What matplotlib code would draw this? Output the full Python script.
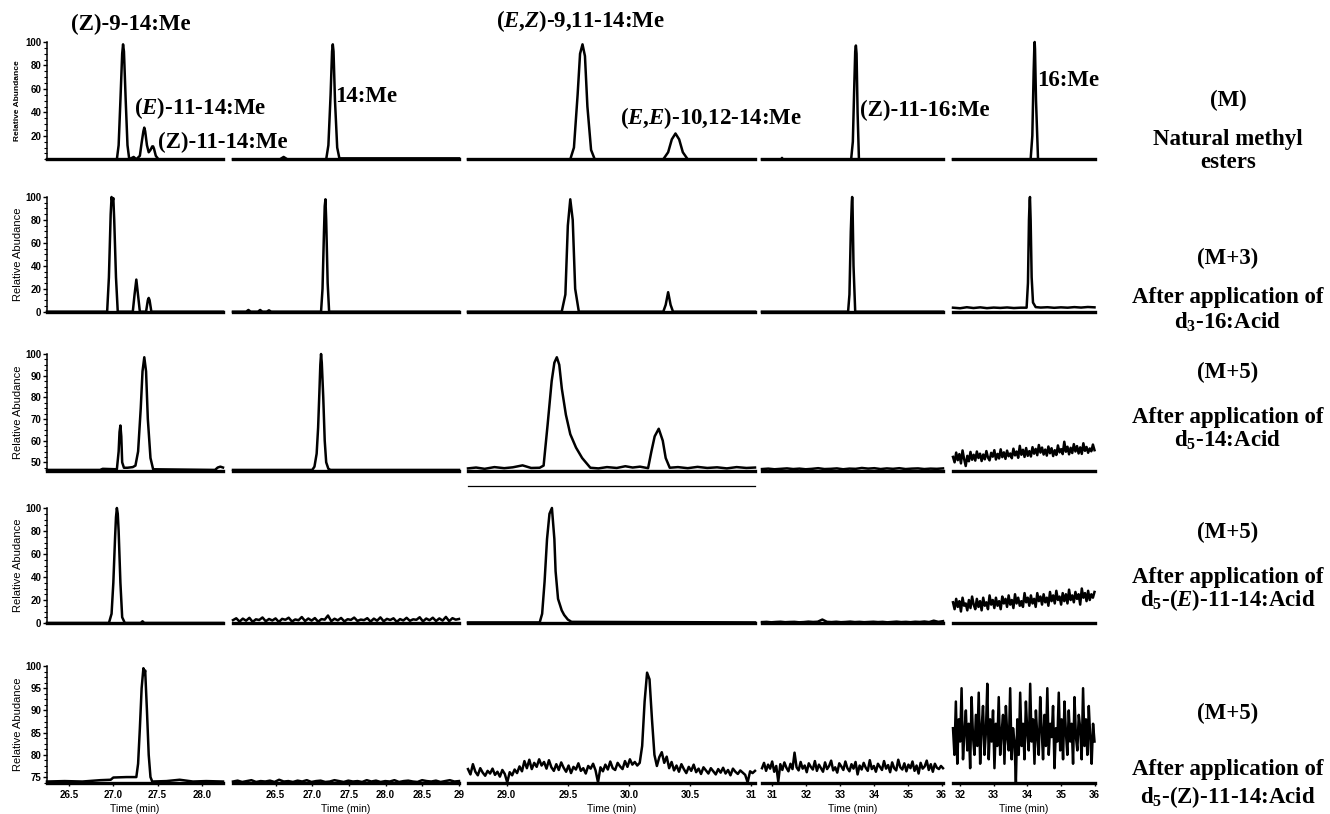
"""GC-MS ion chromatograms of methyl esters after application of labelled acids."""
import numpy as np
import matplotlib
matplotlib.use('Agg')
import matplotlib.pyplot as plt
from matplotlib.ticker import AutoMinorLocator

plt.rcParams['font.family'] = ['Liberation Sans', 'DejaVu Sans']
plt.rcParams['mathtext.fontset'] = 'custom'
plt.rcParams['mathtext.rm'] = 'Liberation Serif:bold'
plt.rcParams['mathtext.bf'] = 'Liberation Serif:bold'
plt.rcParams['mathtext.it'] = 'Liberation Serif:italic:bold'

# ---------------------------------------------------------------------------
# Data: time window per column, abundance window per row, traces (time, abund)
# ---------------------------------------------------------------------------
col_xlim = [(26.25, 28.24), (25.92, 29.0), (28.684, 31.03), (30.7, 36.04), (31.79, 36.0)]
col_xticks = [[26.5, 27.0, 27.5, 28.0],
              [26.5, 27.0, 27.5, 28.0, 28.5, 29.0],
              [29.0, 29.5, 30.0, 30.5, 31.0],
              [31, 32, 33, 34, 35, 36],
              [32, 33, 34, 35, 36]]
col_xticklabels = [['26.5', '27.0', '27.5', '28.0'],
                   ['26.5', '27.0', '27.5', '28.0', '28.5', '29'],
                   ['29.0', '29.5', '30.0', '30.5', '31'],
                   ['31', '32', '33', '34', '35', '36'],
                   ['32', '33', '34', '35', '36']]
row_ylim = [(0, 100), (0, 100), (46, 100), (0, 100), (73.6, 100)]
row_yticks = [[20, 40, 60, 80, 100],
              [0, 20, 40, 60, 80, 100],
              [50, 60, 70, 80, 90, 100],
              [0, 20, 40, 60, 80, 100],
              [75, 80, 85, 90, 95, 100]]
row_ylabel = ['Relative Abundance', 'Relative Abudance', 'Relative Abudance',
              'Relative Abudance', 'Relative Abudance']

# Row 1 (M): natural methyl esters
m_c1 = [(26.25, 0), (27.04, 0), (27.06, 12), (27.08, 50), (27.10, 90), (27.11, 98),
        (27.12, 92), (27.14, 50), (27.16, 12), (27.18, 0), (27.23, 2), (27.26, 0),
        (27.30, 3), (27.32, 14), (27.34, 24), (27.35, 27), (27.36, 24), (27.38, 12),
        (27.40, 6), (27.42, 8), (27.44, 11), (27.45, 11), (27.46, 9), (27.48, 3),
        (27.51, 0), (28.24, 0)]
m_c2 = [(25.92, 0), (26.56, 0), (26.61, 2), (26.66, 0), (27.19, 0), (27.22, 12),
        (27.25, 55), (27.27, 92), (27.28, 98), (27.29, 92), (27.31, 50), (27.34, 10),
        (27.37, 0.8), (29.0, 0.8)]
m_c3 = [(28.684, 0), (29.52, 0), (29.55, 10), (29.58, 55), (29.60, 90), (29.62, 98),
        (29.64, 88), (29.66, 45), (29.69, 8), (29.72, 0), (30.28, 0), (30.32, 6),
        (30.35, 17), (30.38, 22), (30.41, 17), (30.44, 6), (30.48, 0), (31.03, 0)]
m_c4 = [(30.7, 0), (31.27, 0), (31.29, 1.2), (31.31, 0), (33.33, 0), (33.38, 15),
        (33.42, 60), (33.45, 92), (33.47, 97), (33.49, 90), (33.52, 40), (33.56, 0),
        (36.04, 0)]
m_c5 = [(31.79, 0), (34.10, 0), (34.15, 20), (34.19, 75), (34.21, 96), (34.22, 100),
        (34.23, 94), (34.26, 50), (34.32, 0), (36.0, 0)]

# Row 2 (M+3): after d3-16:Acid
m3_c1 = [(26.25, 0), (26.93, 0), (26.95, 30), (26.97, 85), (26.98, 100), (26.99, 96),
         (27.00, 99), (27.01, 80), (27.03, 30), (27.05, 0), (27.22, 0), (27.24, 15),
         (27.26, 28), (27.28, 14), (27.30, 0), (27.37, 0), (27.39, 10), (27.40, 12),
         (27.41, 10), (27.43, 0), (28.24, 0)]
m3_c2 = [(25.92, 0), (26.10, 0), (26.13, 1.5), (26.16, 0), (26.26, 0), (26.29, 1.5),
         (26.32, 0), (26.38, 0), (26.41, 1.2), (26.44, 0), (27.12, 0), (27.14, 20),
         (27.16, 70), (27.17, 92), (27.18, 98), (27.19, 80), (27.21, 25), (27.23, 0),
         (29.0, 0)]
m3_c3 = [(28.684, 0), (29.45, 0), (29.48, 15), (29.50, 75), (29.52, 98), (29.54, 80),
         (29.56, 20), (29.59, 0), (30.28, 0), (30.30, 6), (30.32, 17), (30.34, 6),
         (30.36, 0), (31.03, 0)]
m3_c4 = [(30.7, 0), (33.24, 0), (33.28, 15), (33.32, 70), (33.35, 96), (33.36, 100),
         (33.37, 95), (33.40, 40), (33.45, 0), (36.04, 0)]
m3_c5 = [(31.79, 3.5), (32.0, 3.0), (32.2, 3.9), (32.4, 3.2), (32.6, 3.8), (32.8, 3.1),
         (33.0, 3.6), (33.2, 3.3), (33.4, 3.7), (33.6, 3.2), (33.8, 3.5), (33.98, 3.5),
         (34.02, 25), (34.05, 80), (34.07, 97), (34.08, 100), (34.10, 80), (34.13, 30),
         (34.17, 8), (34.25, 4), (34.4, 3.6), (34.6, 3.9), (34.8, 3.4), (35.0, 3.8),
         (35.2, 3.5), (35.4, 4.0), (35.6, 3.6), (35.8, 4.1), (36.0, 3.8)]

# Row 3 (M+5): after d5-14:Acid
m5a_c1 = [(26.25, 46.5), (26.85, 46.5), (26.88, 47.0), (27.04, 46.8), (27.06, 55),
          (27.07, 64), (27.08, 67), (27.09, 62), (27.10, 50), (27.12, 47.5), (27.16, 47.5),
          (27.22, 47.8), (27.25, 48.5), (27.28, 55), (27.31, 75), (27.33, 92), (27.35, 98.5),
          (27.37, 92), (27.39, 70), (27.42, 52), (27.45, 46.8), (28.15, 46.5), (28.18, 47.6),
          (28.21, 48.0), (28.24, 47.6)]
m5a_c2 = [(25.92, 46.5), (27.00, 46.5), (27.03, 48), (27.06, 54), (27.08, 66), (27.10, 85),
          (27.11, 95), (27.12, 100), (27.13, 96), (27.15, 80), (27.17, 60), (27.19, 50),
          (27.22, 47), (27.25, 46.5), (29.0, 46.5)]
m5a_c3 = [(28.684, 47.2), (28.75, 47.6), (28.82, 47.0), (28.90, 47.8), (28.98, 47.3),
          (29.05, 47.7), (29.13, 48.6), (29.20, 47.4), (29.27, 47.5), (29.302, 48.5),
          (29.335, 67.5), (29.368, 87.5), (29.39, 96), (29.41, 98.5), (29.43, 95),
          (29.451, 84), (29.484, 72), (29.52, 63), (29.567, 56.8), (29.617, 52),
          (29.684, 47.5), (29.75, 47.2), (29.82, 47.8), (29.90, 47.4), (29.97, 48.2),
          (30.03, 47.6), (30.09, 48.0), (30.156, 47.3), (30.183, 55), (30.21, 62),
          (30.243, 65.5), (30.276, 60), (30.30, 52), (30.333, 47.5), (30.40, 47.8),
          (30.48, 47.3), (30.56, 47.9), (30.64, 47.4), (30.72, 47.7), (30.80, 47.2),
          (30.88, 47.8), (30.96, 47.4), (31.03, 47.6)]
m5a_c4 = [46.9, 47.1, 46.8, 47.0, 47.2, 46.9, 47.1, 46.8, 47.0, 47.3, 46.9, 47.0, 47.2,
          46.8, 47.1, 47.0, 47.4, 47.1, 47.3, 46.9, 47.2, 47.0, 47.3, 46.9, 47.1, 47.2,
          46.9, 47.1, 47.0, 47.2]
m5a_c5 = [52.5, 50.0, 54.5, 51.0, 53.8, 49.5, 55.5, 51.5, 48.3, 53.0, 50.5, 54.8, 51.2,
          53.5, 50.8, 55.0, 52.0, 54.0, 50.6, 53.6, 51.4, 55.2, 52.2, 50.9, 54.4, 52.6,
          55.6, 51.3, 53.9, 51.8, 56.0, 52.4, 54.6, 51.6, 55.4, 52.8, 54.1, 51.9, 56.3,
          53.2, 55.0, 52.1, 57.6, 53.5, 55.8, 52.5, 56.6, 53.0, 55.2, 52.7, 57.0, 54.0,
          56.2, 53.3, 58.0, 54.5, 56.8, 53.6, 55.9, 53.1, 57.3, 54.2, 56.5, 52.9, 55.6,
          53.4, 57.8, 54.6, 56.1, 53.8, 59.5, 54.9, 57.2, 53.7, 56.7, 54.3, 58.4, 55.0,
          57.5, 54.1, 56.9, 53.9, 58.8, 55.3, 57.1, 54.4, 56.4, 55.1, 58.2, 55.6]

# Row 4 (M+5): after d5-(E)-11-14:Acid
m5e_c1 = [(26.25, 0), (26.95, 0), (26.98, 8), (27.00, 35), (27.02, 75), (27.03, 92),
          (27.04, 100), (27.05, 95), (27.06, 80), (27.08, 35), (27.10, 5), (27.13, 0),
          (27.31, 0), (27.33, 1.5), (27.35, 0), (28.24, 0)]
m5e_c2 = [2.5, 4.1, 1.2, 3.8, 2.0, 4.5, 1.0, 3.2, 2.6, 4.8, 1.5, 3.5, 2.2, 4.0, 0.9, 3.6,
          2.8, 4.6, 1.3, 3.1, 2.4, 5.2, 1.7, 3.9, 2.1, 4.3, 1.1, 3.4, 2.9, 6.5, 1.6, 3.7,
          2.3, 4.4, 1.4, 3.3, 2.7, 4.7, 1.8, 3.0, 2.5, 4.2, 1.2, 3.8, 2.0, 4.9, 1.5, 3.6,
          2.6, 4.1, 1.0, 3.4, 2.2, 4.5, 1.9, 3.2, 2.8, 5.0, 1.4, 3.9, 2.4, 4.6, 1.7, 4.0,
          2.1, 5.3, 1.6, 4.2, 2.9, 3.5]
m5e_c3 = [(28.684, 0.5), (29.27, 0.5), (29.29, 8), (29.31, 36), (29.33, 73), (29.35, 95),
          (29.37, 100), (29.39, 73), (29.40, 45), (29.42, 21), (29.45, 11), (29.47, 7),
          (29.50, 3), (29.53, 1), (31.03, 0.5)]
m5e_c4 = [0.8, 1.0, 0.6, 0.9, 1.1, 0.7, 0.9, 1.0, 0.6, 0.8, 1.2, 0.9, 1.1, 3.0, 1.0, 0.8,
          1.1, 0.7, 0.9, 1.2, 0.8, 1.0, 0.7, 0.9, 1.1, 0.8, 1.0, 0.6, 0.9, 1.2, 0.8, 1.0,
          0.7, 1.1, 0.9, 1.3, 0.8, 2.0, 1.0, 1.6]
m5e_c5 = [18, 12, 21, 14, 19, 10, 22, 15, 17, 11, 20, 13, 23, 16, 12, 21, 14, 19, 11, 22,
          15, 18, 12, 24, 16, 20, 13, 22, 15, 19, 12, 23, 17, 21, 14, 24, 16, 20, 13, 25,
          17, 22, 15, 19, 14, 26, 18, 22, 15, 24, 17, 21, 14, 26, 19, 23, 16, 25, 18, 22,
          15, 27, 19, 24, 17, 28, 20, 23, 16, 26, 19, 25, 17, 29, 20, 24, 18, 27, 21, 25,
          16, 30, 22, 26, 19, 28, 20, 25, 22, 27]

# Row 5 (M+5): after d5-(Z)-11-14:Acid
m5z_c1 = [(26.25, 74.0), (26.45, 74.1), (26.65, 74.0), (26.85, 74.3), (26.97, 74.4),
          (27.00, 74.9), (27.15, 75.0), (27.26, 75.0), (27.28, 78), (27.30, 86),
          (27.32, 95), (27.34, 99.5), (27.35, 98), (27.36, 99), (27.38, 90), (27.40, 80),
          (27.42, 75), (27.44, 74), (27.60, 74.1), (27.75, 74.4), (27.90, 74.0),
          (28.05, 74.1), (28.24, 74.0)]
m5z_c2 = [74.0, 74.2, 73.9, 74.1, 74.3, 73.9, 74.1, 74.0, 74.2, 73.9, 74.4, 74.0, 74.1,
          73.9, 74.2, 74.0, 74.3, 73.9, 74.1, 74.2, 73.9, 74.0, 74.3, 74.1, 73.9, 74.2,
          74.0, 74.1, 73.9, 74.3, 74.0, 74.2, 73.9, 74.1, 74.0, 74.3, 73.9, 74.1, 74.2,
          74.0, 73.9, 74.3, 74.1, 74.0, 74.2, 73.9, 74.1, 74.3, 74.0, 74.1]
m5z_c3 = [76.8, 75.6, 77.9, 76.2, 75.4, 77.0, 76.0, 75.3, 76.4, 75.8,
          76.9, 75.5, 76.2, 75.1, 76.6, 75.7, 73.8, 76.1, 75.4, 76.7,
          75.9, 77.4, 76.3, 78.6, 77.0, 78.9, 76.8, 78.2, 77.3, 79.0,
          77.6, 78.4, 76.9, 78.8, 77.2, 76.4, 77.9, 76.6, 78.3, 77.1,
          76.2, 77.6, 75.9, 77.3, 76.7, 78.1, 76.4, 77.0, 75.8, 77.5,
          76.9, 78.0, 76.5, 73.8, 77.2, 76.3, 77.8, 76.7, 78.5, 77.0,
          76.6, 78.2, 77.4, 76.8, 78.6, 77.3, 79.0, 77.8, 78.4, 77.6,
          78.2, 82.0, 92.0, 98.5, 97.0, 88.0, 80.0, 77.5, 79.5, 80.6,
          78.2, 79.6, 77.0, 78.4, 76.5, 77.6, 76.2, 77.9, 76.8, 75.9,
          77.3, 76.4, 77.8, 76.1, 76.9, 75.7, 77.2, 76.5, 75.8, 77.0,
          76.3, 75.6, 76.8, 76.0, 77.1, 75.8, 76.6, 75.4, 76.9, 76.2,
          75.7, 76.5, 76.0, 75.5, 73.8, 76.3, 75.9, 76.4]
m5z_c4 = [77.0, 78.2, 76.4, 77.8, 76.9, 78.5, 76.2, 77.5, 74.0, 77.9, 76.6, 78.3, 77.1,
          76.3, 78.0, 76.8, 80.5, 77.2, 76.5, 78.4, 76.9, 77.6, 76.1, 78.1, 77.3, 76.7,
          78.6, 76.4, 77.8, 77.0, 76.2, 78.3, 76.8, 77.5, 78.7, 76.5, 77.2, 76.0, 78.1,
          77.4, 76.6, 78.5, 77.0, 76.3, 77.9, 76.9, 78.4, 75.6, 77.6, 76.7, 78.2, 77.1,
          76.4, 78.8, 76.8, 77.5, 76.2, 78.0, 77.3, 76.6, 78.6, 76.9, 77.7, 76.1, 78.3,
          77.0, 76.5, 78.9, 77.2, 76.7, 78.1, 76.3, 77.8, 77.0, 78.5, 76.4, 77.6, 75.8,
          78.2, 76.9, 77.4, 78.7, 76.6, 77.9, 76.2, 78.0, 77.1, 76.8, 77.5, 77.0]
m5z_c5 = [86, 80, 92, 78, 88, 83, 95, 79, 85, 90, 81, 87, 77, 93, 84, 80, 89, 82, 94, 78,
          86, 91, 80, 85, 96, 79, 88, 83, 90, 77, 87, 82, 93, 80, 85, 89, 78, 91, 84, 81,
          95, 79, 86, 83, 73.8, 88, 80, 94, 82, 87, 79, 92, 85, 81, 96, 83, 88, 78, 90, 84,
          80, 93, 86, 79, 89, 82, 95, 80, 87, 84, 91, 77, 86, 83, 94, 81, 88, 79, 92, 85,
          80, 90, 83, 87, 78, 93, 84, 81, 89, 86, 79, 95, 82, 88, 80, 91, 84, 78, 87, 83]

traces = [[m_c1, m_c2, m_c3, m_c4, m_c5],
          [m3_c1, m3_c2, m3_c3, m3_c4, m3_c5],
          [m5a_c1, m5a_c2, m5a_c3, m5a_c4, m5a_c5],
          [m5e_c1, m5e_c2, m5e_c3, m5e_c4, m5e_c5],
          [m5z_c1, m5z_c2, m5z_c3, m5z_c4, m5z_c5]]

peak_labels = ['(Z)-9-14:Me', r'($\mathit{E}$)-11-14:Me', '(Z)-11-14:Me', '14:Me',
               r'($\mathit{E}$,$\mathit{Z}$)-9,11-14:Me',
               r'($\mathit{E}$,$\mathit{E}$)-10,12-14:Me', '(Z)-11-16:Me', '16:Me']
row_labels = ['(M)', 'Natural methyl', 'esters',
              '(M+3)', 'After application of', r'd$_3$-16:Acid',
              '(M+5)', 'After application of', r'd$_5$-14:Acid',
              '(M+5)', 'After application of', r'd$_5$-($\mathit{E}$)-11-14:Acid',
              '(M+5)', 'After application of', r'd$_5$-(Z)-11-14:Acid']

# ---------------------------------------------------------------------------
# Layout (pixels of the 1330 x 814 figure)
# ---------------------------------------------------------------------------
W, H = 1330, 814
col_px = [(47, 223), (233, 459), (468, 755), (762, 943), (953, 1094.5)]
row_px = [(42, 159.3), (197, 311.7), (354, 471), (508, 623), (666, 783.3)]
peak_label_px = [(131, 24), (200, 108), (223, 142), (366, 97),
                 (581, 21), (711, 118), (925, 110), (1068, 80)]
row_label_y = [100, 140, 162, 258, 298, 322, 372, 417, 440, 532, 577, 600, 713, 770, 797]
row_label_x = 1228

fig = plt.figure(figsize=(W / 100, H / 100), dpi=100)

for r in range(5):
    for c in range(5):
        x0, x1 = col_px[c]
        y0, y1 = row_px[r]
        ax = fig.add_axes([x0 / W, 1 - y1 / H, (x1 - x0) / W, (y1 - y0) / H])
        tr = traces[r][c]
        if isinstance(tr[0], tuple):
            arr = np.array(tr, dtype=float)
            t, y = arr[:, 0], arr[:, 1]
        else:
            y = np.array(tr, dtype=float)
            t = np.linspace(col_xlim[c][0], col_xlim[c][1], len(y))
        ax.plot(t, y, color='black', linewidth=1.8, clip_on=False)
        ax.set_xlim(*col_xlim[c])
        ax.set_ylim(*row_ylim[r])

        for side in ('top', 'right'):
            ax.spines[side].set_visible(False)
        ax.spines['bottom'].set_linewidth(2.4)
        if c == 0:
            ax.spines['left'].set_linewidth(1.1)
            ax.set_yticks(row_yticks[r])
            ax.set_yticklabels([str(v) for v in row_yticks[r]], fontweight='bold')
            ax.yaxis.set_minor_locator(AutoMinorLocator(4))
            ax.tick_params(axis='y', which='major', labelsize=7, length=3, width=1, pad=1)
            ax.tick_params(axis='y', which='minor', length=2, width=0.8)
            if r == 0:
                ax.set_ylabel(row_ylabel[r], fontsize=6, fontweight='bold', labelpad=3)
            else:
                ax.set_ylabel(row_ylabel[r], fontsize=8, labelpad=2)
        else:
            ax.spines['left'].set_visible(False)
            ax.set_yticks([])
        if r == 4:
            ax.set_xticks(col_xticks[c])
            ax.set_xticklabels(col_xticklabels[c], fontweight='bold')
            ax.tick_params(axis='x', labelsize=7, length=2.5, width=1, pad=2)
            ax.set_xlabel('Time (min)', fontsize=7.5, labelpad=3)
        else:
            ax.set_xticks([])
        ax.patch.set_visible(False)

        # extra rule under the (M+5) d5-14:Acid window of the third column
        if r == 2 and c == 2:
            ax.plot([0, 1], [-0.13, -0.13], transform=ax.transAxes, color='black',
                    linewidth=0.9, clip_on=False)

serif = dict(family='Liberation Serif', fontweight='bold', fontsize=16.5,
             ha='center', va='center')
for txt, (px, py) in zip(peak_labels, peak_label_px):
    fig.text(px / W, 1 - py / H, txt, **serif)
for txt, py in zip(row_labels, row_label_y):
    fig.text(row_label_x / W, 1 - py / H, txt, **serif)

fig.savefig('out.png', dpi=100)
